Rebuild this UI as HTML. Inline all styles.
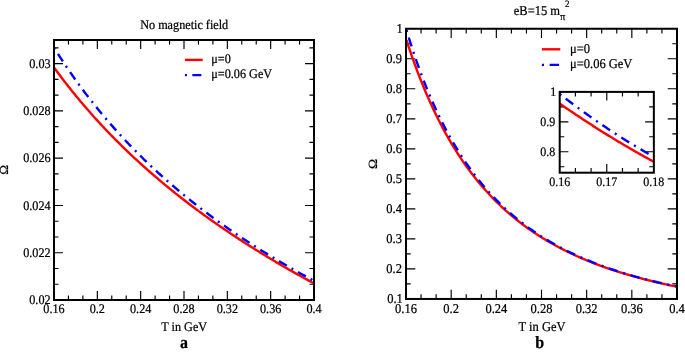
<!DOCTYPE html>
<html><head><meta charset="utf-8"><style>
html,body{margin:0;padding:0;background:#fff;}
svg{display:block;will-change:transform;}
text{font-family:"Liberation Serif",serif;fill:#000;stroke:#000;stroke-width:0.22px;text-rendering:geometricPrecision;}
</style></head><body>
<svg width="685" height="352" viewBox="0 0 685 352">
<rect width="685" height="352" fill="#fff"/>
<defs>
<clipPath id="cl"><rect x="54.0" y="40.0" width="260.0" height="260.0"/></clipPath>
<clipPath id="cr"><rect x="406.0" y="28.75" width="271.0" height="270.2"/></clipPath>
<clipPath id="ci"><rect x="559.7" y="91.9" width="94.15" height="80.80"/></clipPath>
</defs>
<!-- LEFT PANEL -->
<path d="M97.33,300.0v-9M97.33,40.0v9M140.67,300.0v-9M140.67,40.0v9M184.00,300.0v-9M184.00,40.0v9M227.33,300.0v-9M227.33,40.0v9M270.67,300.0v-9M270.67,40.0v9M68.44,300.0v-4.5M68.44,40.0v4.5M82.89,300.0v-4.5M82.89,40.0v4.5M111.78,300.0v-4.5M111.78,40.0v4.5M126.22,300.0v-4.5M126.22,40.0v4.5M155.11,300.0v-4.5M155.11,40.0v4.5M169.56,300.0v-4.5M169.56,40.0v4.5M198.44,300.0v-4.5M198.44,40.0v4.5M212.89,300.0v-4.5M212.89,40.0v4.5M241.78,300.0v-4.5M241.78,40.0v4.5M256.22,300.0v-4.5M256.22,40.0v4.5M285.11,300.0v-4.5M285.11,40.0v4.5M299.56,300.0v-4.5M299.56,40.0v4.5M54.0,252.73h9M314.0,252.73h-9M54.0,205.45h9M314.0,205.45h-9M54.0,158.18h9M314.0,158.18h-9M54.0,110.91h9M314.0,110.91h-9M54.0,63.64h9M314.0,63.64h-9M54.0,284.24h4.5M314.0,284.24h-4.5M54.0,268.48h4.5M314.0,268.48h-4.5M54.0,236.97h4.5M314.0,236.97h-4.5M54.0,221.21h4.5M314.0,221.21h-4.5M54.0,189.70h4.5M314.0,189.70h-4.5M54.0,173.94h4.5M314.0,173.94h-4.5M54.0,142.42h4.5M314.0,142.42h-4.5M54.0,126.67h4.5M314.0,126.67h-4.5M54.0,95.15h4.5M314.0,95.15h-4.5M54.0,79.39h4.5M314.0,79.39h-4.5M54.0,47.88h4.5M314.0,47.88h-4.5" fill="none" stroke="#000" stroke-width="1.15"/>
<g clip-path="url(#cl)" fill="none" stroke-width="2.4">
<path d="M54.00,67.47 L55.31,69.26 L56.61,71.04 L57.92,72.81 L59.23,74.56 L60.53,76.30 L61.84,78.02 L63.15,79.73 L64.45,81.43 L65.76,83.12 L67.07,84.80 L68.37,86.46 L69.68,88.11 L70.98,89.75 L72.29,91.38 L73.60,93.00 L74.90,94.60 L76.21,96.20 L77.52,97.78 L78.82,99.36 L80.13,100.92 L81.44,102.47 L82.74,104.01 L84.05,105.54 L85.36,107.07 L86.66,108.58 L87.97,110.08 L89.28,111.57 L90.58,113.05 L91.89,114.53 L93.20,115.99 L94.50,117.44 L95.81,118.89 L97.12,120.33 L98.42,121.75 L99.73,123.17 L101.04,124.58 L102.34,125.98 L103.65,127.38 L104.95,128.76 L106.26,130.14 L107.57,131.51 L108.87,132.87 L110.18,134.22 L111.49,135.56 L112.79,136.90 L114.10,138.23 L115.41,139.55 L116.71,140.86 L118.02,142.17 L119.33,143.47 L120.63,144.76 L121.94,146.04 L123.25,147.32 L124.55,148.59 L125.86,149.85 L127.17,151.11 L128.47,152.36 L129.78,153.60 L131.09,154.84 L132.39,156.07 L133.70,157.29 L135.01,158.51 L136.31,159.72 L137.62,160.92 L138.92,162.12 L140.23,163.31 L141.54,164.49 L142.84,165.67 L144.15,166.84 L145.46,168.01 L146.76,169.17 L148.07,170.33 L149.38,171.48 L150.68,172.62 L151.99,173.76 L153.30,174.89 L154.60,176.02 L155.91,177.14 L157.22,178.25 L158.52,179.36 L159.83,180.47 L161.14,181.57 L162.44,182.66 L163.75,183.75 L165.06,184.84 L166.36,185.92 L167.67,186.99 L168.97,188.06 L170.28,189.12 L171.59,190.18 L172.89,191.24 L174.20,192.29 L175.51,193.33 L176.81,194.37 L178.12,195.41 L179.43,196.44 L180.73,197.46 L182.04,198.48 L183.35,199.50 L184.65,200.51 L185.96,201.52 L187.27,202.52 L188.57,203.52 L189.88,204.52 L191.19,205.51 L192.49,206.49 L193.80,207.48 L195.11,208.45 L196.41,209.43 L197.72,210.40 L199.03,211.36 L200.33,212.32 L201.64,213.28 L202.94,214.23 L204.25,215.18 L205.56,216.13 L206.86,217.07 L208.17,218.01 L209.48,218.94 L210.78,219.87 L212.09,220.80 L213.40,221.72 L214.70,222.64 L216.01,223.55 L217.32,224.46 L218.62,225.37 L219.93,226.27 L221.24,227.17 L222.54,228.07 L223.85,228.96 L225.16,229.85 L226.46,230.74 L227.77,231.62 L229.08,232.50 L230.38,233.38 L231.69,234.25 L232.99,235.12 L234.30,235.99 L235.61,236.85 L236.91,237.71 L238.22,238.57 L239.53,239.42 L240.83,240.27 L242.14,241.12 L243.45,241.96 L244.75,242.80 L246.06,243.64 L247.37,244.47 L248.67,245.31 L249.98,246.13 L251.29,246.96 L252.59,247.78 L253.90,248.60 L255.21,249.42 L256.51,250.23 L257.82,251.04 L259.13,251.85 L260.43,252.66 L261.74,253.46 L263.05,254.26 L264.35,255.05 L265.66,255.85 L266.96,256.64 L268.27,257.43 L269.58,258.21 L270.88,258.99 L272.19,259.77 L273.50,260.55 L274.80,261.33 L276.11,262.10 L277.42,262.87 L278.72,263.64 L280.03,264.40 L281.34,265.16 L282.64,265.92 L283.95,266.68 L285.26,267.43 L286.56,268.18 L287.87,268.93 L289.18,269.68 L290.48,270.42 L291.79,271.16 L293.10,271.90 L294.40,272.64 L295.71,273.38 L297.02,274.11 L298.32,274.84 L299.63,275.57 L300.93,276.29 L302.24,277.01 L303.55,277.73 L304.85,278.45 L306.16,279.17 L307.47,279.88 L308.77,280.59 L310.08,281.30 L311.39,282.01 L312.69,282.72 L314.00,283.42" stroke="#f00"/>
<path d="M54.00,47.58 L55.31,49.67 L56.61,51.75 L57.92,53.80 L59.23,55.84 L60.53,57.85 L61.84,59.86 L63.15,61.84 L64.45,63.81 L65.76,65.76 L67.07,67.69 L68.37,69.61 L69.68,71.51 L70.98,73.39 L72.29,75.26 L73.60,77.12 L74.90,78.96 L76.21,80.78 L77.52,82.59 L78.82,84.39 L80.13,86.17 L81.44,87.94 L82.74,89.69 L84.05,91.43 L85.36,93.16 L86.66,94.88 L87.97,96.58 L89.28,98.27 L90.58,99.94 L91.89,101.60 L93.20,103.25 L94.50,104.89 L95.81,106.52 L97.12,108.13 L98.42,109.74 L99.73,111.33 L101.04,112.91 L102.34,114.48 L103.65,116.04 L104.95,117.58 L106.26,119.12 L107.57,120.65 L108.87,122.16 L110.18,123.67 L111.49,125.16 L112.79,126.64 L114.10,128.12 L115.41,129.58 L116.71,131.04 L118.02,132.48 L119.33,133.92 L120.63,135.35 L121.94,136.76 L123.25,138.17 L124.55,139.57 L125.86,140.96 L127.17,142.34 L128.47,143.71 L129.78,145.07 L131.09,146.43 L132.39,147.78 L133.70,149.11 L135.01,150.44 L136.31,151.76 L137.62,153.08 L138.92,154.38 L140.23,155.68 L141.54,156.97 L142.84,158.25 L144.15,159.53 L145.46,160.79 L146.76,162.05 L148.07,163.30 L149.38,164.55 L150.68,165.79 L151.99,167.02 L153.30,168.24 L154.60,169.46 L155.91,170.66 L157.22,171.87 L158.52,173.06 L159.83,174.25 L161.14,175.43 L162.44,176.61 L163.75,177.78 L165.06,178.94 L166.36,180.10 L167.67,181.25 L168.97,182.39 L170.28,183.53 L171.59,184.66 L172.89,185.78 L174.20,186.90 L175.51,188.01 L176.81,189.12 L178.12,190.22 L179.43,191.32 L180.73,192.41 L182.04,193.49 L183.35,194.57 L184.65,195.64 L185.96,196.71 L187.27,197.77 L188.57,198.83 L189.88,199.88 L191.19,200.92 L192.49,201.96 L193.80,203.00 L195.11,204.03 L196.41,205.05 L197.72,206.07 L199.03,207.09 L200.33,208.10 L201.64,209.10 L202.94,210.10 L204.25,211.10 L205.56,212.09 L206.86,213.07 L208.17,214.06 L209.48,215.03 L210.78,216.00 L212.09,216.97 L213.40,217.93 L214.70,218.89 L216.01,219.84 L217.32,220.79 L218.62,221.74 L219.93,222.68 L221.24,223.61 L222.54,224.54 L223.85,225.47 L225.16,226.39 L226.46,227.31 L227.77,228.23 L229.08,229.14 L230.38,230.04 L231.69,230.94 L232.99,231.84 L234.30,232.74 L235.61,233.63 L236.91,234.51 L238.22,235.40 L239.53,236.27 L240.83,237.15 L242.14,238.02 L243.45,238.89 L244.75,239.75 L246.06,240.61 L247.37,241.47 L248.67,242.32 L249.98,243.17 L251.29,244.01 L252.59,244.85 L253.90,245.69 L255.21,246.53 L256.51,247.36 L257.82,248.19 L259.13,249.01 L260.43,249.83 L261.74,250.65 L263.05,251.46 L264.35,252.27 L265.66,253.08 L266.96,253.88 L268.27,254.68 L269.58,255.48 L270.88,256.28 L272.19,257.07 L273.50,257.86 L274.80,258.64 L276.11,259.42 L277.42,260.20 L278.72,260.98 L280.03,261.75 L281.34,262.52 L282.64,263.28 L283.95,264.05 L285.26,264.81 L286.56,265.57 L287.87,266.32 L289.18,267.07 L290.48,267.82 L291.79,268.57 L293.10,269.31 L294.40,270.05 L295.71,270.79 L297.02,271.52 L298.32,272.26 L299.63,272.98 L300.93,273.71 L302.24,274.43 L303.55,275.16 L304.85,275.87 L306.16,276.59 L307.47,277.30 L308.77,278.01 L310.08,278.72 L311.39,279.43 L312.69,280.13 L314.00,280.83" stroke="#00f" stroke-dasharray="2 5.45 9 5.4"/>
</g>
<g fill="none" stroke="#000">
<rect x="54.0" y="40.0" width="260.0" height="260.0" stroke-width="2"/>
</g>
<g font-size="12.2">
<text transform="translate(50.6,304.10) scale(1,1.08)" text-anchor="end">0.02</text><text transform="translate(50.6,256.83) scale(1,1.08)" text-anchor="end">0.022</text><text transform="translate(50.6,209.55) scale(1,1.08)" text-anchor="end">0.024</text><text transform="translate(50.6,162.28) scale(1,1.08)" text-anchor="end">0.026</text><text transform="translate(50.6,115.01) scale(1,1.08)" text-anchor="end">0.028</text><text transform="translate(50.6,67.74) scale(1,1.08)" text-anchor="end">0.03</text><text transform="translate(54.00,312.6) scale(1,1.08)" text-anchor="middle">0.16</text><text transform="translate(97.33,312.6) scale(1,1.08)" text-anchor="middle">0.2</text><text transform="translate(140.67,312.6) scale(1,1.08)" text-anchor="middle">0.24</text><text transform="translate(184.00,312.6) scale(1,1.08)" text-anchor="middle">0.28</text><text transform="translate(227.33,312.6) scale(1,1.08)" text-anchor="middle">0.32</text><text transform="translate(270.67,312.6) scale(1,1.08)" text-anchor="middle">0.36</text><text transform="translate(314.00,312.6) scale(1,1.08)" text-anchor="middle">0.4</text>
<text transform="translate(184.2,28.9) scale(1,1.08)" text-anchor="middle">No magnetic field</text>
<text transform="translate(184.2,330.6) scale(1,1.08)" text-anchor="middle">T in GeV</text>
<text transform="translate(8.4,169.9) scale(1,1.08) rotate(-90)" text-anchor="middle">&#937;</text>
<text transform="translate(211.3,62.6) scale(1,1.08)">&#956;=0</text>
<text transform="translate(211.3,78.2) scale(1,1.08)">&#956;=0.06 GeV</text>
</g>
<text transform="translate(184,348.4) scale(1,1.08)" text-anchor="middle" font-size="16" font-weight="bold">a</text>
<g fill="none" stroke-width="2.4">
<path d="M184.9,59.9H202.7" stroke="#f00"/>
<path d="M184.9,75.1H202.7" stroke="#00f" stroke-dasharray="2 5.45 9 5.4"/>
</g>
<!-- RIGHT PANEL -->
<path d="M451.17,298.95v-9.3M451.17,28.75v9.3M496.33,298.95v-9.3M496.33,28.75v9.3M541.50,298.95v-9.3M541.50,28.75v9.3M586.67,298.95v-9.3M586.67,28.75v9.3M631.83,298.95v-9.3M631.83,28.75v9.3M421.06,298.95v-4.7M421.06,28.75v4.7M436.11,298.95v-4.7M436.11,28.75v4.7M466.22,298.95v-4.7M466.22,28.75v4.7M481.28,298.95v-4.7M481.28,28.75v4.7M511.39,298.95v-4.7M511.39,28.75v4.7M526.44,298.95v-4.7M526.44,28.75v4.7M556.56,298.95v-4.7M556.56,28.75v4.7M571.61,298.95v-4.7M571.61,28.75v4.7M601.72,298.95v-4.7M601.72,28.75v4.7M616.78,298.95v-4.7M616.78,28.75v4.7M646.89,298.95v-4.7M646.89,28.75v4.7M661.94,298.95v-4.7M661.94,28.75v4.7M406.0,268.93h9.3M677.0,268.93h-9.3M406.0,238.91h9.3M677.0,238.91h-9.3M406.0,208.88h9.3M677.0,208.88h-9.3M406.0,178.86h9.3M677.0,178.86h-9.3M406.0,148.84h9.3M677.0,148.84h-9.3M406.0,118.82h9.3M677.0,118.82h-9.3M406.0,88.79h9.3M677.0,88.79h-9.3M406.0,58.77h9.3M677.0,58.77h-9.3M406.0,283.94h4.7M677.0,283.94h-4.7M406.0,253.92h4.7M677.0,253.92h-4.7M406.0,223.89h4.7M677.0,223.89h-4.7M406.0,193.87h4.7M677.0,193.87h-4.7M406.0,163.85h4.7M677.0,163.85h-4.7M406.0,133.83h4.7M677.0,133.83h-4.7M406.0,103.81h4.7M677.0,103.81h-4.7M406.0,73.78h4.7M677.0,73.78h-4.7M406.0,43.76h4.7M677.0,43.76h-4.7" fill="none" stroke="#000" stroke-width="1.15"/>
<g clip-path="url(#cr)" fill="none" stroke-width="2.4">
<path d="M406.50,40.16 L407.86,44.33 L409.22,48.42 L410.58,52.43 L411.94,56.35 L413.30,60.21 L414.66,63.98 L416.02,67.69 L417.37,71.32 L418.73,74.88 L420.09,78.38 L421.45,81.81 L422.81,85.17 L424.17,88.47 L425.53,91.71 L426.89,94.89 L428.25,98.01 L429.61,101.08 L430.97,104.09 L432.33,107.04 L433.69,109.94 L435.05,112.79 L436.40,115.58 L437.76,118.33 L439.12,121.02 L440.48,123.67 L441.84,126.28 L443.20,128.83 L444.56,131.35 L445.92,133.82 L447.28,136.24 L448.64,138.63 L450.00,140.97 L451.36,143.28 L452.72,145.54 L454.08,147.77 L455.43,149.96 L456.79,152.11 L458.15,154.23 L459.51,156.31 L460.87,158.35 L462.23,160.37 L463.59,162.35 L464.95,164.30 L466.31,166.21 L467.67,168.10 L469.03,169.95 L470.39,171.78 L471.75,173.58 L473.11,175.34 L474.46,177.08 L475.82,178.80 L477.18,180.48 L478.54,182.14 L479.90,183.77 L481.26,185.38 L482.62,186.97 L483.98,188.53 L485.34,190.06 L486.70,191.57 L488.06,193.06 L489.42,194.53 L490.78,195.97 L492.14,197.39 L493.49,198.80 L494.85,200.18 L496.21,201.54 L497.57,202.88 L498.93,204.20 L500.29,205.50 L501.65,206.78 L503.01,208.04 L504.37,209.29 L505.73,210.52 L507.09,211.72 L508.45,212.92 L509.81,214.09 L511.17,215.25 L512.53,216.39 L513.88,217.52 L515.24,218.63 L516.60,219.72 L517.96,220.80 L519.32,221.87 L520.68,222.92 L522.04,223.95 L523.40,224.97 L524.76,225.98 L526.12,226.97 L527.48,227.95 L528.84,228.92 L530.20,229.87 L531.56,230.81 L532.91,231.74 L534.27,232.66 L535.63,233.56 L536.99,234.45 L538.35,235.33 L539.71,236.20 L541.07,237.06 L542.43,237.90 L543.79,238.74 L545.15,239.56 L546.51,240.38 L547.87,241.18 L549.23,241.97 L550.59,242.75 L551.94,243.53 L553.30,244.29 L554.66,245.04 L556.02,245.78 L557.38,246.52 L558.74,247.24 L560.10,247.96 L561.46,248.67 L562.82,249.36 L564.18,250.05 L565.54,250.73 L566.90,251.41 L568.26,252.07 L569.62,252.73 L570.97,253.38 L572.33,254.02 L573.69,254.65 L575.05,255.27 L576.41,255.89 L577.77,256.50 L579.13,257.10 L580.49,257.70 L581.85,258.29 L583.21,258.87 L584.57,259.44 L585.93,260.01 L587.29,260.57 L588.65,261.13 L590.01,261.68 L591.36,262.22 L592.72,262.75 L594.08,263.28 L595.44,263.81 L596.80,264.32 L598.16,264.84 L599.52,265.34 L600.88,265.84 L602.24,266.34 L603.60,266.82 L604.96,267.31 L606.32,267.78 L607.68,268.26 L609.04,268.72 L610.39,269.19 L611.75,269.64 L613.11,270.09 L614.47,270.54 L615.83,270.98 L617.19,271.42 L618.55,271.85 L619.91,272.28 L621.27,272.70 L622.63,273.12 L623.99,273.54 L625.35,273.94 L626.71,274.35 L628.07,274.75 L629.42,275.15 L630.78,275.54 L632.14,275.93 L633.50,276.31 L634.86,276.69 L636.22,277.07 L637.58,277.44 L638.94,277.81 L640.30,278.17 L641.66,278.53 L643.02,278.89 L644.38,279.24 L645.74,279.59 L647.10,279.93 L648.45,280.28 L649.81,280.61 L651.17,280.95 L652.53,281.28 L653.89,281.61 L655.25,281.94 L656.61,282.26 L657.97,282.58 L659.33,282.89 L660.69,283.20 L662.05,283.51 L663.41,283.82 L664.77,284.12 L666.13,284.42 L667.48,284.72 L668.84,285.01 L670.20,285.30 L671.56,285.59 L672.92,285.88 L674.28,286.16 L675.64,286.44 L677.00,286.72" stroke="#f00"/>
<path d="M406.50,30.08 L407.86,34.58 L409.22,38.98 L410.58,43.29 L411.94,47.51 L413.30,51.64 L414.66,55.69 L416.02,59.65 L417.37,63.53 L418.73,67.33 L420.09,71.06 L421.45,74.71 L422.81,78.29 L424.17,81.79 L425.53,85.23 L426.89,88.60 L428.25,91.91 L429.61,95.15 L430.97,98.33 L432.33,101.45 L433.69,104.51 L435.05,107.51 L436.40,110.45 L437.76,113.34 L439.12,116.18 L440.48,118.96 L441.84,121.69 L443.20,124.37 L444.56,127.01 L445.92,129.59 L447.28,132.13 L448.64,134.63 L450.00,137.08 L451.36,139.48 L452.72,141.85 L454.08,144.17 L455.43,146.45 L456.79,148.70 L458.15,150.90 L459.51,153.07 L460.87,155.19 L462.23,157.29 L463.59,159.34 L464.95,161.37 L466.31,163.36 L467.67,165.31 L469.03,167.24 L470.39,169.13 L471.75,170.99 L473.11,172.82 L474.46,174.62 L475.82,176.39 L477.18,178.13 L478.54,179.85 L479.90,181.53 L481.26,183.19 L482.62,184.83 L483.98,186.44 L485.34,188.02 L486.70,189.58 L488.06,191.11 L489.42,192.62 L490.78,194.11 L492.14,195.57 L493.49,197.02 L494.85,198.44 L496.21,199.83 L497.57,201.21 L498.93,202.57 L500.29,203.90 L501.65,205.22 L503.01,206.52 L504.37,207.79 L505.73,209.05 L507.09,210.29 L508.45,211.52 L509.81,212.72 L511.17,213.91 L512.53,215.08 L513.88,216.23 L515.24,217.37 L516.60,218.49 L517.96,219.59 L519.32,220.68 L520.68,221.76 L522.04,222.81 L523.40,223.86 L524.76,224.89 L526.12,225.90 L527.48,226.90 L528.84,227.89 L530.20,228.86 L531.56,229.82 L532.91,230.77 L534.27,231.71 L535.63,232.63 L536.99,233.54 L538.35,234.43 L539.71,235.32 L541.07,236.19 L542.43,237.06 L543.79,237.91 L545.15,238.75 L546.51,239.57 L547.87,240.39 L549.23,241.20 L550.59,241.99 L551.94,242.78 L553.30,243.56 L554.66,244.32 L556.02,245.08 L557.38,245.83 L558.74,246.56 L560.10,247.29 L561.46,248.01 L562.82,248.72 L564.18,249.42 L565.54,250.11 L566.90,250.80 L568.26,251.47 L569.62,252.14 L570.97,252.79 L572.33,253.45 L573.69,254.09 L575.05,254.72 L576.41,255.35 L577.77,255.97 L579.13,256.58 L580.49,257.18 L581.85,257.78 L583.21,258.37 L584.57,258.95 L585.93,259.53 L587.29,260.10 L588.65,260.66 L590.01,261.22 L591.36,261.77 L592.72,262.31 L594.08,262.85 L595.44,263.38 L596.80,263.90 L598.16,264.42 L599.52,264.93 L600.88,265.44 L602.24,265.94 L603.60,266.43 L604.96,266.92 L606.32,267.41 L607.68,267.89 L609.04,268.36 L610.39,268.83 L611.75,269.29 L613.11,269.75 L614.47,270.20 L615.83,270.65 L617.19,271.09 L618.55,271.52 L619.91,271.96 L621.27,272.38 L622.63,272.81 L623.99,273.23 L625.35,273.64 L626.71,274.05 L628.07,274.45 L629.42,274.86 L630.78,275.25 L632.14,275.64 L633.50,276.03 L634.86,276.42 L636.22,276.80 L637.58,277.17 L638.94,277.54 L640.30,277.91 L641.66,278.28 L643.02,278.64 L644.38,278.99 L645.74,279.34 L647.10,279.69 L648.45,280.04 L649.81,280.38 L651.17,280.72 L652.53,281.05 L653.89,281.39 L655.25,281.71 L656.61,282.04 L657.97,282.36 L659.33,282.68 L660.69,282.99 L662.05,283.31 L663.41,283.61 L664.77,283.92 L666.13,284.22 L667.48,284.52 L668.84,284.82 L670.20,285.11 L671.56,285.40 L672.92,285.69 L674.28,285.98 L675.64,286.26 L677.00,286.54" stroke="#00f" stroke-dasharray="2.1 5.65 9.4 5.65"/>
</g>
<g fill="none" stroke="#000">
<rect x="406.0" y="28.75" width="271.0" height="270.2" stroke-width="2"/>
</g>
<g font-size="12.5">
<text transform="translate(402.8,303.15) scale(1,1.08)" text-anchor="end">0.1</text><text transform="translate(401.9,273.13) scale(1,1.08)" text-anchor="end">0.2</text><text transform="translate(401.9,243.11) scale(1,1.08)" text-anchor="end">0.3</text><text transform="translate(401.9,213.08) scale(1,1.08)" text-anchor="end">0.4</text><text transform="translate(401.9,183.06) scale(1,1.08)" text-anchor="end">0.5</text><text transform="translate(401.9,153.04) scale(1,1.08)" text-anchor="end">0.6</text><text transform="translate(401.9,123.02) scale(1,1.08)" text-anchor="end">0.7</text><text transform="translate(401.9,92.99) scale(1,1.08)" text-anchor="end">0.8</text><text transform="translate(401.9,62.97) scale(1,1.08)" text-anchor="end">0.9</text><text transform="translate(402.8,32.95) scale(1,1.08)" text-anchor="end">1</text><text transform="translate(406.00,312.5) scale(1,1.08)" text-anchor="middle">0.16</text><text transform="translate(451.17,312.5) scale(1,1.08)" text-anchor="middle">0.2</text><text transform="translate(496.33,312.5) scale(1,1.08)" text-anchor="middle">0.24</text><text transform="translate(541.50,312.5) scale(1,1.08)" text-anchor="middle">0.28</text><text transform="translate(586.67,312.5) scale(1,1.08)" text-anchor="middle">0.32</text><text transform="translate(631.83,312.5) scale(1,1.08)" text-anchor="middle">0.36</text><text transform="translate(677.00,312.5) scale(1,1.08)" text-anchor="middle">0.4</text>
<text transform="translate(513.8,14.5) scale(1,1.08)">eB=15 m</text>
<text transform="translate(542,330.6) scale(1,1.08)" text-anchor="middle">T in GeV</text>
<text transform="translate(377,163.9) scale(1,1.08) rotate(-90)" text-anchor="middle">&#937;</text>
<text transform="translate(570,52.6) scale(1,1.08)">&#956;=0</text>
<text transform="translate(570,68.2) scale(1,1.08)">&#956;=0.06 GeV</text>
</g>
<text transform="translate(560.3,19.7) scale(1,1.08)" font-size="10">&#960;</text>
<text transform="translate(565,6.8) scale(1,1.08)" font-size="9">2</text>
<text transform="translate(539.6,348.4) scale(1,1.08)" text-anchor="middle" font-size="16" font-weight="bold">b</text>
<g fill="none" stroke-width="2.4">
<path d="M541.9,49.3H560.3" stroke="#f00"/>
<path d="M541.9,64.9H560.3" stroke="#00f" stroke-dasharray="2.1 5.65 9.4 5.65"/>
</g>
<!-- INSET -->
<rect x="559.7" y="91.9" width="94.15" height="80.80" fill="#fff"/>
<path d="M606.78,172.7v-8.7M606.78,91.9v8.7M575.39,172.7v-4.6M575.39,91.9v4.6M591.08,172.7v-4.6M591.08,91.9v4.6M622.47,172.7v-4.6M622.47,91.9v4.6M638.16,172.7v-4.6M638.16,91.9v4.6M559.7,151.75h8.7M653.85,151.75h-8.7M559.7,121.83h8.7M653.85,121.83h-8.7M559.7,166.71h4.6M653.85,166.71h-4.6M559.7,136.79h4.6M653.85,136.79h-4.6M559.7,106.86h4.6M653.85,106.86h-4.6" fill="none" stroke="#000" stroke-width="1.15"/>
<g clip-path="url(#ci)" fill="none" stroke-width="2.4">
<path d="M559.70,103.57 L560.89,104.40 L562.08,105.22 L563.28,106.05 L564.47,106.87 L565.66,107.69 L566.85,108.50 L568.04,109.32 L569.23,110.13 L570.43,110.94 L571.62,111.74 L572.81,112.55 L574.00,113.35 L575.19,114.15 L576.38,114.95 L577.58,115.75 L578.77,116.54 L579.96,117.33 L581.15,118.12 L582.34,118.90 L583.54,119.69 L584.73,120.47 L585.92,121.25 L587.11,122.03 L588.30,122.80 L589.49,123.57 L590.69,124.34 L591.88,125.11 L593.07,125.88 L594.26,126.64 L595.45,127.40 L596.64,128.16 L597.84,128.91 L599.03,129.67 L600.22,130.42 L601.41,131.17 L602.60,131.91 L603.80,132.66 L604.99,133.40 L606.18,134.14 L607.37,134.88 L608.56,135.61 L609.75,136.35 L610.95,137.08 L612.14,137.80 L613.33,138.53 L614.52,139.25 L615.71,139.97 L616.91,140.69 L618.10,141.41 L619.29,142.12 L620.48,142.84 L621.67,143.55 L622.86,144.25 L624.06,144.96 L625.25,145.66 L626.44,146.36 L627.63,147.06 L628.82,147.75 L630.01,148.45 L631.21,149.14 L632.40,149.83 L633.59,150.51 L634.78,151.20 L635.97,151.88 L637.17,152.56 L638.36,153.23 L639.55,153.91 L640.74,154.58 L641.93,155.25 L643.12,155.92 L644.32,156.58 L645.51,157.25 L646.70,157.91 L647.89,158.56 L649.08,159.22 L650.27,159.87 L651.47,160.53 L652.66,161.17 L653.85,161.82" stroke="#f00"/>
<path d="M559.70,93.95 L560.89,94.88 L562.08,95.80 L563.28,96.72 L564.47,97.64 L565.66,98.55 L566.85,99.46 L568.04,100.37 L569.23,101.27 L570.43,102.17 L571.62,103.07 L572.81,103.96 L574.00,104.86 L575.19,105.74 L576.38,106.63 L577.58,107.51 L578.77,108.38 L579.96,109.26 L581.15,110.13 L582.34,110.99 L583.54,111.86 L584.73,112.72 L585.92,113.57 L587.11,114.43 L588.30,115.28 L589.49,116.12 L590.69,116.97 L591.88,117.81 L593.07,118.64 L594.26,119.48 L595.45,120.31 L596.64,121.13 L597.84,121.96 L599.03,122.77 L600.22,123.59 L601.41,124.40 L602.60,125.21 L603.80,126.02 L604.99,126.82 L606.18,127.62 L607.37,128.42 L608.56,129.21 L609.75,130.00 L610.95,130.79 L612.14,131.57 L613.33,132.35 L614.52,133.12 L615.71,133.90 L616.91,134.66 L618.10,135.43 L619.29,136.19 L620.48,136.95 L621.67,137.71 L622.86,138.46 L624.06,139.21 L625.25,139.95 L626.44,140.70 L627.63,141.43 L628.82,142.17 L630.01,142.90 L631.21,143.63 L632.40,144.35 L633.59,145.08 L634.78,145.80 L635.97,146.51 L637.17,147.22 L638.36,147.93 L639.55,148.64 L640.74,149.34 L641.93,150.04 L643.12,150.73 L644.32,151.42 L645.51,152.11 L646.70,152.79 L647.89,153.48 L649.08,154.15 L650.27,154.83 L651.47,155.50 L652.66,156.17 L653.85,156.83" stroke="#00f" stroke-dasharray="2.05 5.6 9.3 5.65"/>
</g>
<g fill="none" stroke="#000">
<rect x="559.7" y="91.9" width="94.15" height="80.80" stroke-width="2"/>
</g>
<g font-size="12">
<text transform="translate(555.3,155.85) scale(1,1.08)" text-anchor="end">0.8</text><text transform="translate(555.3,125.93) scale(1,1.08)" text-anchor="end">0.9</text><text transform="translate(556.3,96.00) scale(1,1.08)" text-anchor="end">1</text><text transform="translate(559.70,186.2) scale(1,1.08)" text-anchor="middle">0.16</text><text transform="translate(606.78,186.2) scale(1,1.08)" text-anchor="middle">0.17</text><text transform="translate(653.85,186.2) scale(1,1.08)" text-anchor="middle">0.18</text>
</g>
</svg>
</body></html>
